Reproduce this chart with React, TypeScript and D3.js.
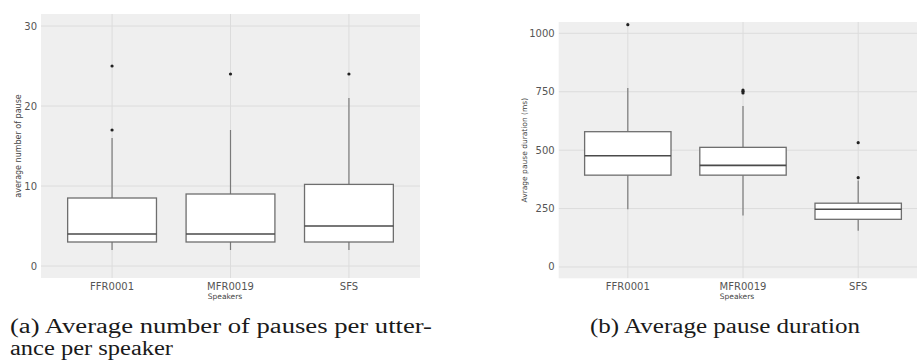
import React from 'react';
import * as d3 from 'd3';

// speakers on the x axis
const speakers = ['FFR0001', 'MFR0019', 'SFS'];

// (a) average number of pauses: [whisker low, q1, median, q3, whisker high]
const pauseCountStats = [
  [2, 3, 4, 8.5, 16],
  [2, 3, 4, 9, 17],
  [2, 3, 5, 10.2, 21],
];
const pauseCountOutliers = [[17, 25], [24], [24]];
const pauseCountTicks = [0, 10, 20, 30];

// (b) average pause duration (ms)
const pauseDurStats = [
  [247, 393, 476, 579, 766],
  [220, 393, 435, 512, 689],
  [155, 204, 247, 273, 370],
];
const pauseDurOutliers = [[1037], [745, 752, 757], [382, 532]];
const pauseDurTicks = [0, 250, 500, 750, 1000];

const W = 917;
const H = 360;

type PanelProps = {
  x0: number;
  x1: number;
  y0: number;
  y1: number;
  domain: [number, number];
  stats: number[][];
  outliers: number[][];
  ticks: number[];
  yTitle: string;
  yTitleX: number;
  yTitleSize: number;
  xTitleX: number;
  clipId: string;
};

const Panel = ({ x0, x1, y0, y1, domain, stats, outliers, ticks, yTitle, yTitleX, yTitleSize, xTitleX, clipId }: PanelProps) => {
  const x = d3.scalePoint<string>().domain(speakers).range([x0, x1]).padding(0.6);
  const y = d3.scaleLinear().domain(domain).range([y1, y0]);
  const boxW = x.step() * 0.75;
  const midY = (y0 + y1) / 2;

  return (
    <g>
      <clipPath id={clipId}>
        <rect x={x0} y={y0} width={x1 - x0} height={y1 - y0} />
      </clipPath>
      <rect x={x0} y={y0} width={x1 - x0} height={y1 - y0} fill="#efefef" />
      <g clipPath={`url(#${clipId})`}>
        {ticks.map(t => (
          <line key={t} x1={x0} x2={x1} y1={y(t)} y2={y(t)} stroke="#dcdcdc" strokeWidth={1} />
        ))}
        {speakers.map(s => (
          <line key={s} x1={x(s)} x2={x(s)} y1={y0} y2={y1} stroke="#dcdcdc" strokeWidth={1} />
        ))}
        {speakers.map((s, i) => {
          const [lo, q1, med, q3, hi] = stats[i];
          const cx = x(s) as number;
          return (
            <g key={s}>
              <line x1={cx} x2={cx} y1={y(q3)} y2={y(hi)} stroke="#7a7a7a" strokeWidth={1.2} />
              <line x1={cx} x2={cx} y1={y(q1)} y2={y(lo)} stroke="#7a7a7a" strokeWidth={1.2} />
              <rect x={cx - boxW / 2} y={y(q3)} width={boxW} height={y(q1) - y(q3)}
                fill="#ffffff" stroke="#6e6e6e" strokeWidth={1.3} />
              <line x1={cx - boxW / 2} x2={cx + boxW / 2} y1={y(med)} y2={y(med)} stroke="#4a4a4a" strokeWidth={1.6} />
              {outliers[i].map((o, j) => (
                <circle key={j} cx={cx} cy={y(o)} r={1.6} fill="#222" />
              ))}
            </g>
          );
        })}
      </g>
      {ticks.map(t => (
        <text key={t} x={x0 - 4} y={y(t)} dy="0.35em" textAnchor="end" fontSize={10} fill="#555"
          fontFamily="DejaVu Sans">{t}</text>
      ))}
      {speakers.map(s => (
        <text key={s} x={x(s)} y={y1 + 8} dy="0.35em" textAnchor="middle" fontSize={10} fill="#555"
          fontFamily="DejaVu Sans">{s}</text>
      ))}
      <text x={xTitleX} y={y1 + 21} textAnchor="middle" fontSize={7.5} fill="#444"
        fontFamily="DejaVu Sans">Speakers</text>
      <text transform={`translate(${yTitleX},${midY}) rotate(-90)`} textAnchor="middle" dy="0.35em"
        fontSize={yTitleSize} fill="#444" fontFamily="DejaVu Sans">{yTitle}</text>
    </g>
  );
};

const App = () => {
  return (
    <svg width={W} height={H} style={{ position: 'absolute', left: 0, top: 0, background: '#fff' }}>
      <Panel x0={41} x1={420} y0={14} y1={278} domain={[-1.5, 31.5]}
        stats={pauseCountStats} outliers={pauseCountOutliers} ticks={pauseCountTicks}
        yTitle="average number of pause" yTitleX={18} yTitleSize={8} xTitleX={225} clipId="clipA" />
      <Panel x0={558.7} x1={927.3} y0={22} y1={278.3} domain={[-48.4, 1048.4]}
        stats={pauseDurStats} outliers={pauseDurOutliers} ticks={pauseDurTicks}
        yTitle="Avrage pause duration (ms)" yTitleX={524} yTitleSize={7.5} xTitleX={737} clipId="clipB" />
      <g fontFamily="'Liberation Serif', 'Times New Roman', serif" fontSize={20} fill="#1a1a1a">
        <text x={10} y={333} textLength={422} lengthAdjust="spacingAndGlyphs">(a) Average number of pauses per utter-</text>
        <text x={10} y={355} textLength={163} lengthAdjust="spacingAndGlyphs">ance per speaker</text>
        <text x={590} y={333} textLength={270} lengthAdjust="spacingAndGlyphs">(b) Average pause duration</text>
      </g>
    </svg>
  );
};

export default App;
